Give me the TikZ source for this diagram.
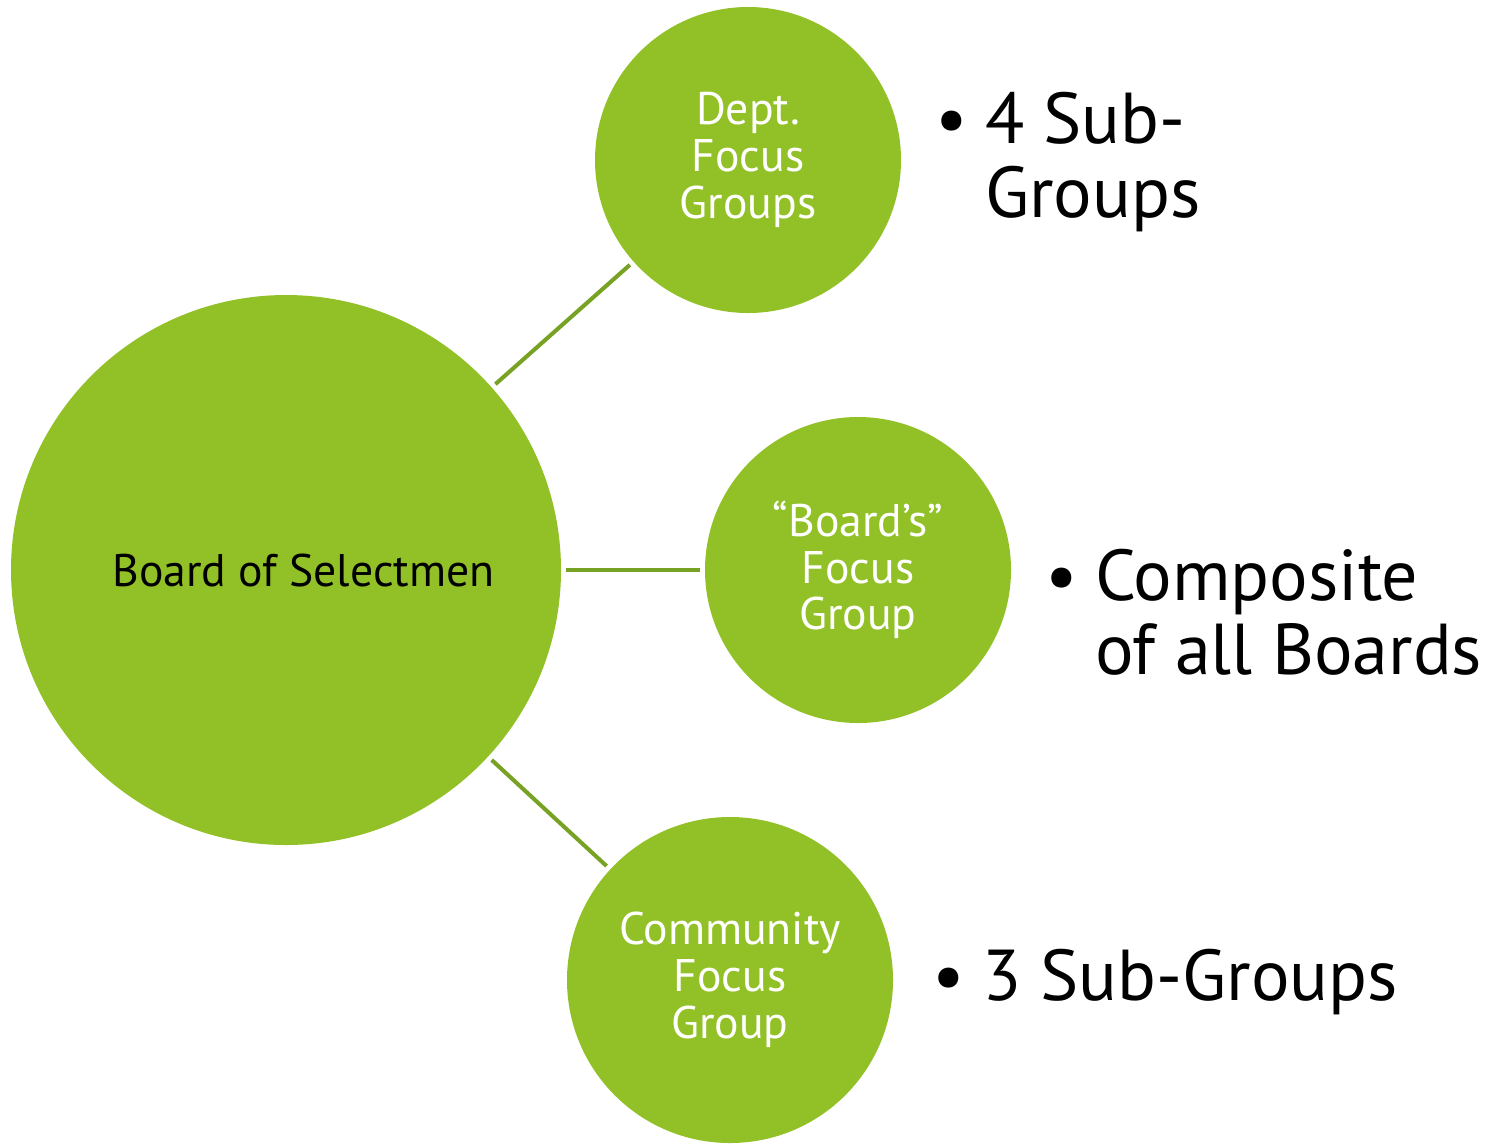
\documentclass[tikz,border=0pt]{standalone}
\usepackage{fontspec}
\setmainfont{PT Sans}
\usepackage{xcolor}
\definecolor{verde}{RGB}{146,193,39}
\definecolor{verdeOscuro}{RGB}{120,162,36}
\usepackage{tikz}
\usetikzlibrary{shapes,calc,positioning}
\tikzstyle{bubble}=[circle, fill=verde, inner sep=0pt,
                    outer sep=0pt, align=center, text=white,
                    font=\fontsize{26}{26.6}\selectfont]
\tikzstyle{edge}  =[shorten <=0.1cm, shorten >=0.1cm,
                    line width=2.3pt, verdeOscuro]
\tikzstyle{note}  =[anchor=base west, inner sep=0pt,
                    font=\fontsize{41}{42.5}\selectfont]
\newcommand{\punto}[1]{\begin{tabular}[t]{@{}l@{}l@{}}\makebox[28.3pt][l]{\textbullet} & #1\end{tabular}}

\begin{document}
\begin{tikzpicture}
    \useasboundingbox (0,0) rectangle (30.12,-22.88);

    % circles
    \draw (5.72,-11.4) node (board) [bubble, minimum size=11cm, text=black] {\hspace*{0.7cm}Board of Selectmen};
    \draw (14.96,-3.2) node (dept) [bubble, minimum size=6.12cm] {Dept.\\Focus\\Groups};
    \draw (17.16,-11.4) node (boards) [bubble, minimum size=6.12cm] {“Board’s”\\Focus\\Group};
    \draw (14.6,-19.6) node (comm) [bubble, minimum size=6.52cm] {Community\\Focus\\Group};

    \foreach \i in {dept,boards,comm}
        \draw [edge] (board) to (\i);

    % notes
    \draw (18.7,-2.86) node (deptnote) [note] {\punto{4 Sub-\\ & Groups}};
    \draw (20.9,-12.0) node (boardsnote) [note] {\punto{Composite\\ & of all Boards}};
    \draw (18.64,-20.0) node (commnote) [note] {\punto{3 Sub-Groups}};
\end{tikzpicture}
\end{document}
